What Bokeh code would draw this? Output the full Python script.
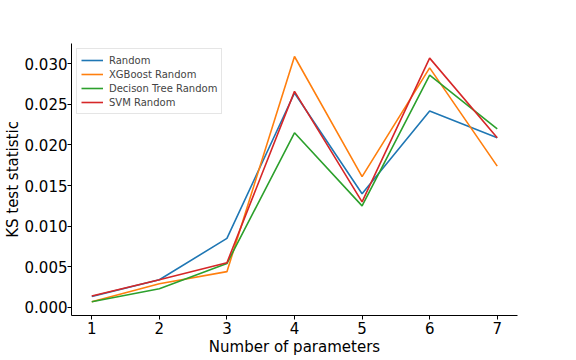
from bokeh.plotting import figure
from bokeh.models import FixedTicker, NumeralTickFormatter, Range1d, Legend, LegendItem
from bokeh.embed import file_html
from bokeh.resources import INLINE

params = [1, 2, 3, 4, 5, 6, 7]
random_vals = [0.00135, 0.0034, 0.0085, 0.0264, 0.0140, 0.0242, 0.0209]
xgb_vals = [0.0007, 0.0029, 0.0044, 0.0309, 0.0161, 0.0295, 0.0174]
dt_vals = [0.0007, 0.0023, 0.0054, 0.0215, 0.0125, 0.0286, 0.0220]
svm_vals = [0.0014, 0.0034, 0.0055, 0.0266, 0.0130, 0.0307, 0.0209]

series = [
    ("Random", random_vals, "#1f77b4"),
    ("XGBoost Random", xgb_vals, "#ff7f0e"),
    ("Decison Tree Random", dt_vals, "#2ca02c"),
    ("SVM Random", svm_vals, "#d62728"),
]
y_ticks = [0.0, 0.005, 0.01, 0.015, 0.02, 0.025, 0.03]

p = figure(frame_width=446, frame_height=272, output_backend="svg", toolbar_location=None,
           x_range=Range1d(0.7, 7.3), y_range=Range1d(-0.001, 0.0325),
           min_border_left=60, min_border_right=20, min_border_top=43, min_border_bottom=0)
p.outline_line_color = None
p.xgrid.visible = False
p.ygrid.visible = False
p.background_fill_color = "white"

items = []
for name, vals, col in series:
    r = p.line(params, vals, line_color=col, line_width=1.6)
    items.append(LegendItem(label=name, renderers=[r]))

legend = Legend(items=items, location="top_left", margin=5, padding=4, spacing=0,
                label_text_font="DejaVu Sans", label_text_font_size="10px",
                label_height=14, glyph_height=14, glyph_width=22, label_standoff=6,
                border_line_color="#cccccc", border_line_width=1,
                background_fill_alpha=0.8)
p.add_layout(legend, "center")

for ax in (p.xaxis[0], p.yaxis[0]):
    ax.major_label_text_font = "DejaVu Sans"
    ax.major_label_text_font_size = "15px"
    ax.major_label_text_color = "black"
    ax.axis_label_text_font = "DejaVu Sans"
    ax.axis_label_text_font_size = "15px"
    ax.axis_label_text_font_style = "normal"
    ax.axis_label_text_color = "black"
    ax.axis_line_color = "black"
    ax.major_tick_line_color = "black"
    ax.major_tick_in = 0
    ax.major_tick_out = 4
    ax.minor_tick_line_color = None

p.xaxis.ticker = FixedTicker(ticks=params)
p.yaxis.ticker = FixedTicker(ticks=y_ticks)
p.yaxis.formatter = NumeralTickFormatter(format="0.000")
p.xaxis.axis_label = "Number of parameters"
p.yaxis.axis_label = "KS test statistic"
p.xaxis.major_label_standoff = 2
p.xaxis.axis_label_standoff = 1
p.yaxis.major_label_standoff = 0
p.yaxis.axis_label_standoff = 0

open("out.html", "w").write(file_html(p, INLINE))
